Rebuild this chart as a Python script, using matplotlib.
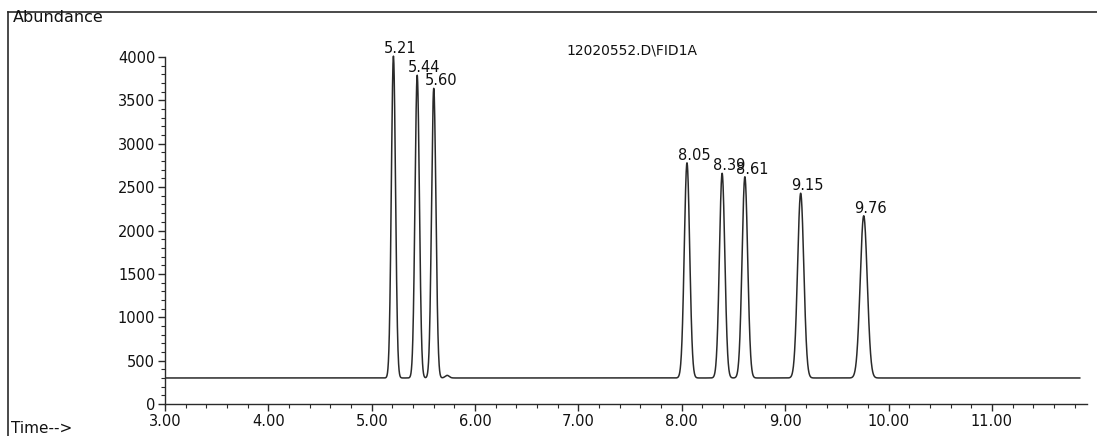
import numpy as np
import matplotlib
matplotlib.use("Agg")
import matplotlib.pyplot as plt
from matplotlib.lines import Line2D
from matplotlib.ticker import MultipleLocator, FixedLocator, FormatStrFormatter

# FID trace: retention times (min), apex abundance and peak width (min)
ret_times = [5.21, 5.44, 5.60, 8.05, 8.39, 8.61, 9.15, 9.76]
apex_abundance = [4010, 3790, 3640, 2780, 2660, 2620, 2430, 2170]
peak_sigma = [0.020, 0.021, 0.021, 0.026, 0.026, 0.027, 0.030, 0.034]
baseline_level = 300
# small unlabeled bump after the first group
bump_time, bump_height, bump_sigma = 5.73, 30, 0.02

run_start, run_end = 3.0, 11.85
y_top = 4000
data_file = "12020552.D\\FID1A"

t = np.linspace(run_start, run_end, 6000)
signal = np.full_like(t, baseline_level, dtype=float)
for rt, top, s in zip(ret_times, apex_abundance, peak_sigma):
    signal += (top - baseline_level) * np.exp(-0.5 * ((t - rt) / s) ** 2)
signal += bump_height * np.exp(-0.5 * ((t - bump_time) / bump_sigma) ** 2)

fig = plt.figure(figsize=(10.97, 4.36), dpi=100)
ax = fig.add_axes([165 / 1097, 32 / 436, (1087 - 165) / 1097, (405 - 32) / 436])

ink = "#2a2a2a"
ax.plot(t, signal, color=ink, lw=1.1)

for rt, top in zip(ret_times, apex_abundance):
    ax.annotate(f"{rt:.2f}", xy=(rt, top), xytext=(5, 0),
                textcoords="offset points", ha="center", va="bottom",
                fontsize=10.5, color="#111111")

ax.set_xlim(3.0, 11.92)
ax.set_ylim(0, 4300)

for side in ("top", "right"):
    ax.spines[side].set_visible(False)
ax.spines["left"].set_bounds(0, y_top)
for side in ("left", "bottom"):
    ax.spines[side].set_color(ink)
    ax.spines[side].set_linewidth(1.0)

ax.set_xticks([3, 4, 5, 6, 7, 8, 9, 10, 11])
ax.xaxis.set_minor_locator(MultipleLocator(0.2))
ax.xaxis.set_major_formatter(FormatStrFormatter("%.2f"))
ax.set_yticks(range(0, y_top + 1, 500))
ax.yaxis.set_minor_locator(FixedLocator(range(0, y_top + 1, 100)))
ax.tick_params(axis="both", which="major", length=5, width=1.0, color=ink,
               labelsize=10.5, labelcolor="#111111", pad=2)
ax.tick_params(axis="both", which="minor", length=3, width=0.8, color=ink)

fig.text(632 / 1097, 1 - 50 / 436, data_file, ha="center", va="center",
         fontsize=10, color="#111111")
fig.text(13 / 1097, 1 - 18 / 436, "Abundance", ha="left", va="center",
         fontsize=11.5, color="#111111")
fig.text(11 / 1097, 1 - 428 / 436, "Time-->", ha="left", va="center",
         fontsize=11, color="#111111")

# page frame lines along the top and left
fig.add_artist(Line2D([8 / 1097, 1.0], [1 - 12 / 436] * 2,
                      transform=fig.transFigure, color=ink, lw=1.2))
fig.add_artist(Line2D([8 / 1097] * 2, [0, 1 - 12 / 436],
                      transform=fig.transFigure, color=ink, lw=1.2))

fig.savefig("out.png", dpi=100, facecolor="white")
